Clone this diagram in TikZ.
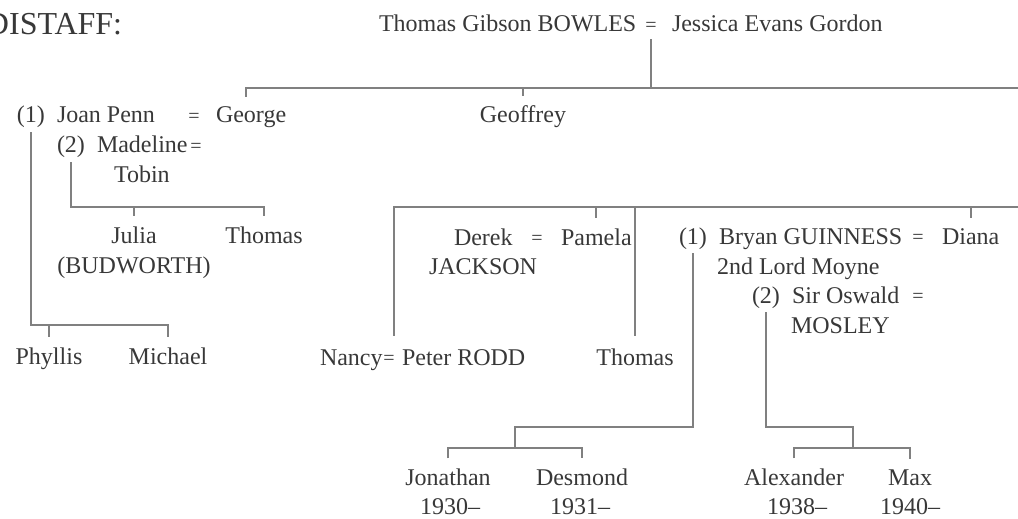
\documentclass[tikz,border=0pt]{standalone}
\usepackage{fontspec}
\setmainfont{Liberation Serif}

\begin{document}
\begin{tikzpicture}[x=0.5pt,y=-0.5pt,
  every node/.style={inner sep=0pt,outer sep=2pt,text=black!78,
    font=\fontsize{12}{15}\selectfont},
  person/.style={anchor=base west},
  child/.style={anchor=base},
  wed/.style={anchor=base,font=\fontsize{10}{12}\selectfont,yshift=0.4pt},
  link/.style={draw=black!50,line width=1pt}]
  \useasboundingbox (0,0) rectangle (1018,519);

  \node[person,font=\fontsize{16}{19}\selectfont] (title) at (-18,35) {DISTAFF:};

  % Bowles parents
  \node[person] (tgb) at (375,32) {Thomas Gibson BOWLES};
  \node[wed] (eq0) at (651,32) {=};
  \node[person] (jeg) at (668,32) {Jessica Evans Gordon};

  \node[person] (n1a) at (13,123) {(1)};
  \node[person] (joan) at (53,123) {Joan Penn};
  \node[wed] (eq1) at (194,123) {=};
  \node[person] (george) at (212,123) {George};
  \node[child] (geoffrey) at (523,123) {Geoffrey};
  \node[person] (n2a) at (53,153) {(2)};
  \node[person] (madeline) at (93,153) {Madeline};
  \node[wed] (eq2) at (196,153) {=};
  \node[person] (tobin) at (110,183) {Tobin};

  \node[child] (julia) at (134,243) {Julia};
  \node[child] (budworth) at (134,273) {(BUDWORTH)};
  \node[child] (thomasA) at (264,243) {Thomas};
  \node[child] (phyllis) at (49,364) {Phyllis};
  \node[child] (michael) at (168,364) {Michael};

  % Mitford children
  \node[person] (derek) at (450,245) {Derek};
  \node[wed] (eq3) at (537,245) {=};
  \node[person] (pamela) at (557,245) {Pamela};
  \node[person] (jackson) at (425,274) {JACKSON};
  \node[person] (nancy) at (316,365) {Nancy};
  \node[wed] (eq4) at (389,365) {=};
  \node[person] (rodd) at (398,365) {Peter RODD};
  \node[child] (thomasB) at (635,365) {Thomas};
  \node[person] (n1b) at (675,244) {(1)};
  \node[person] (bryan) at (715,244) {Bryan GUINNESS};
  \node[wed] (eq5) at (918,244) {=};
  \node[person] (diana) at (938,244) {Diana};
  \node[person] (moyne) at (713,274) {2nd Lord Moyne};
  \node[person] (n2b) at (748,303) {(2)};
  \node[person] (oswald) at (788,303) {Sir Oswald};
  \node[wed] (eq6) at (918,303) {=};
  \node[person] (mosley) at (787,333) {MOSLEY};

  \node[child] (jonathan) at (448,485) {Jonathan};
  \node[child] (jonathany) at (450,514) {1930--};
  \node[child] (desmond) at (582,485) {Desmond};
  \node[child] (desmondy) at (580,514) {1931--};
  \node[child] (alexander) at (794,485) {Alexander};
  \node[child] (alexandery) at (797,514) {1938--};
  \node[child] (max) at (910,485) {Max};
  \node[child] (maxy) at (910,514) {1940--};

  \coordinate (bar0) at (1018,88);
  \coordinate (bar1) at (170,325);
  \coordinate (bar2) at (263,207);
  \coordinate (bar3) at (1018,207);
  \coordinate (bar3w) at (394,207);
  \coordinate (bar4) at (515,427);
  \coordinate (bar5) at (580,448);
  \coordinate (bar6) at (853,427);
  \coordinate (tB) at ([yshift=4pt]thomasB.north);

  \draw[link] ([yshift=-4pt]eq0.base) -- (eq0 |- bar0);
  \draw[link] (bar0) -| ([xshift=-2.5pt,yshift=3pt]george.north);
  \draw[link] (geoffrey.north |- bar0) -- ([yshift=3pt]geoffrey.north);

  \draw[link] (n1a.south) |- (michael.north |- bar1) -- ([yshift=3pt]michael.north);
  \draw[link] (phyllis.north |- bar1) -- ([yshift=3pt]phyllis.north);
  \draw[link] (n2a.south) |- (thomasA.north |- bar2) -- ([yshift=3pt]thomasA.north);
  \draw[link] (julia.north |- bar2) -- ([yshift=3pt]julia.north);

  \draw[link] (bar3) -- (bar3w) -- (bar3w |- tB);
  \draw[link] (thomasB.north |- bar3) -- (tB);
  \draw[link] (pamela.north |- bar3) -- ([yshift=3pt]pamela.north);
  \draw[link] (diana.north |- bar3) -- ([yshift=3pt]diana.north);

  \draw[link] (n1b.south) |- (bar4) -- (bar4 |- bar5);
  \draw[link] ([yshift=3pt]jonathan.north) -- (jonathan.north |- bar5)
    -| ([yshift=3pt]desmond.north);
  \draw[link] (n2b.south) |- (bar6) -- (bar6 |- bar5);
  \draw[link] ([yshift=3pt]alexander.north) -- (alexander.north |- bar5)
    -| ([yshift=3pt]max.north);
\end{tikzpicture}
\end{document}
